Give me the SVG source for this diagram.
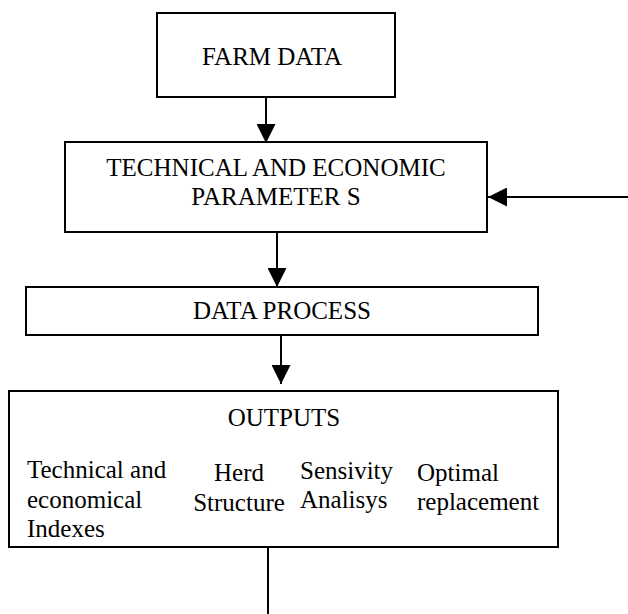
<svg xmlns="http://www.w3.org/2000/svg" width="628" height="614" viewBox="0 0 628 614">
  <style>
    .box { fill: #ffffff; stroke: #000000; stroke-width: 2; }
    .lbl { font-family: "Liberation Serif", "Times New Roman", serif; font-size: 25px; fill: #000000; }
    .mid { text-anchor: middle; }
    .wire { fill: none; stroke: #000000; stroke-width: 2; }
  </style>
  <defs>
    <marker id="head" viewBox="0 0 19 19" refX="19" refY="9.5" markerWidth="19" markerHeight="19" markerUnits="userSpaceOnUse" orient="auto">
      <path d="M0,0 L19,9.5 L0,19 Z" fill="#000000"/>
    </marker>
  </defs>
  <rect width="628" height="614" fill="#ffffff"/>

  <g id="farm-data">
    <rect class="box" x="157" y="13" width="238" height="84"/>
    <text class="lbl mid" x="272" y="65">FARM DATA</text>
  </g>

  <g id="parameters">
    <rect class="box" x="65" y="142" width="422" height="90"/>
    <text class="lbl mid" x="276" y="176">TECHNICAL AND ECONOMIC</text>
    <text class="lbl mid" x="276" y="205">PARAMETER S</text>
  </g>

  <g id="data-process">
    <rect class="box" x="26" y="287" width="512" height="48"/>
    <text class="lbl mid" x="282" y="319">DATA PROCESS</text>
  </g>

  <g id="outputs">
    <rect class="box" x="9" y="391" width="549" height="156"/>
    <text class="lbl mid" x="284" y="426">OUTPUTS</text>
    <text class="lbl" x="27" y="478">Technical and</text>
    <text class="lbl" x="27" y="508">economical</text>
    <text class="lbl" x="27" y="537">Indexes</text>
    <text class="lbl mid" x="239" y="481">Herd</text>
    <text class="lbl mid" x="239" y="511">Structure</text>
    <text class="lbl" x="300" y="479">Sensivity</text>
    <text class="lbl" x="300" y="508">Analisys</text>
    <text class="lbl" x="417" y="481">Optimal</text>
    <text class="lbl" x="417" y="510">replacement</text>
  </g>

  <g id="connectors">
    <line class="wire" x1="266" y1="97" x2="266" y2="143" marker-end="url(#head)"/>
    <line class="wire" x1="277" y1="232" x2="277" y2="287" marker-end="url(#head)"/>
    <line class="wire" x1="281" y1="335" x2="281" y2="384" marker-end="url(#head)"/>
    <line class="wire" x1="628" y1="197" x2="488" y2="197" marker-end="url(#head)"/>
    <line class="wire" x1="268" y1="547" x2="268" y2="614" stroke-width="1.5"/>
  </g>
</svg>
